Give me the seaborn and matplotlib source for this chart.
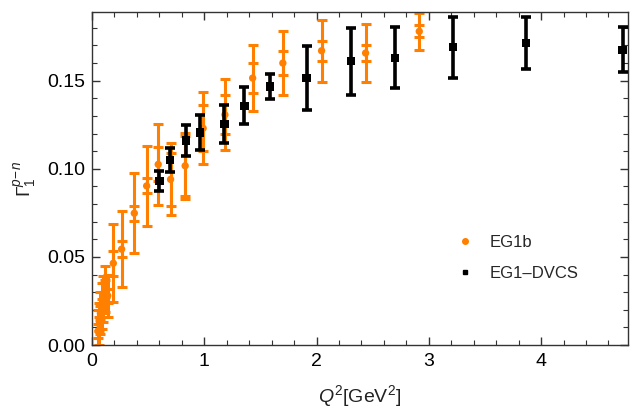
import numpy as np
import pandas as pd
import matplotlib
matplotlib.use("Agg")
import matplotlib.pyplot as plt
import seaborn as sns
from matplotlib.ticker import MultipleLocator
from matplotlib.lines import Line2D

# EG1b data: Q^2, Gamma1^{p-n}, stat error, total error
eg1b_q2 = [0.054, 0.064, 0.075, 0.088, 0.10, 0.116, 0.14, 0.19, 0.264, 0.377, 0.487,
           0.59, 0.70, 0.83, 0.99, 1.184, 1.431, 1.70, 2.045, 2.437, 2.915]
eg1b_g = [0.008, 0.012, 0.018, 0.022, 0.026, 0.032, 0.028, 0.0464, 0.0544, 0.0748, 0.0903,
          0.1025, 0.094, 0.1017, 0.123, 0.1307, 0.1515, 0.160, 0.167, 0.1657, 0.178]
eg1b_stat = [0.004, 0.004, 0.004, 0.004, 0.004, 0.005, 0.004, 0.0072, 0.0047, 0.0043, 0.0043,
             0.0097, 0.015, 0.017, 0.013, 0.011, 0.0085, 0.0067, 0.0056, 0.0047, 0.0034]
eg1b_tot = [0.012, 0.012, 0.012, 0.013, 0.013, 0.013, 0.012, 0.0222, 0.0216, 0.0227, 0.0227,
            0.0229, 0.0204, 0.0187, 0.0205, 0.020, 0.0185, 0.0182, 0.0177, 0.0164, 0.0106]

# EG1-DVCS data: Q^2, Gamma1^{p-n}, error
dvcs_q2 = [0.60, 0.695, 0.837, 0.962, 1.18, 1.357, 1.585, 1.912, 2.306, 2.698, 3.215, 3.865, 4.726]
dvcs_g = [0.093, 0.105, 0.116, 0.1206, 0.1254, 0.1358, 0.1468, 0.1515, 0.161, 0.163, 0.169, 0.1714, 0.1676]
dvcs_err = [0.0055, 0.0068, 0.009, 0.010, 0.0106, 0.0104, 0.007, 0.018, 0.019, 0.0172, 0.0172, 0.015, 0.0126]

orange = "#FF8000"

sns.set_theme(style="ticks")
plt.rcParams["font.family"] = ["Liberation Sans", "DejaVu Sans"]
plt.rcParams["mathtext.fontset"] = "custom"
plt.rcParams["mathtext.rm"] = "Liberation Sans"
plt.rcParams["mathtext.it"] = "Liberation Sans:italic"

df_b = pd.DataFrame({"q2": eg1b_q2, "g": eg1b_g, "stat": eg1b_stat, "tot": eg1b_tot})
df_d = pd.DataFrame({"q2": dvcs_q2, "g": dvcs_g, "err": dvcs_err})

fig = plt.figure(figsize=(6.3, 4.13), dpi=100)
ax = fig.add_axes([0.146, 0.1646, 0.851, 0.8064])

# EG1b: total and stat error bars
ax.errorbar(df_b.q2, df_b.g, yerr=df_b.tot, fmt="none", ecolor=orange, elinewidth=2.2,
            capsize=3.3, capthick=2.2, zorder=2)
ax.errorbar(df_b.q2, df_b.g, yerr=df_b.stat, fmt="none", ecolor=orange, elinewidth=2.2,
            capsize=3.3, capthick=2.2, zorder=2)
sns.scatterplot(data=df_b, x="q2", y="g", ax=ax, color=orange, marker="o", s=28,
                edgecolor="none", zorder=3, legend=False)

# EG1-DVCS
ax.errorbar(df_d.q2, df_d.g, yerr=df_d.err, fmt="none", ecolor="black", elinewidth=2.6,
            capsize=3.5, capthick=2.6, zorder=4)
sns.scatterplot(data=df_d, x="q2", y="g", ax=ax, color="black", marker="s", s=36,
                edgecolor="none", zorder=5, legend=False)

ax.set_xlim(0, 4.775)
ax.set_ylim(0, 0.189)
ax.xaxis.set_major_locator(MultipleLocator(1))
ax.xaxis.set_minor_locator(MultipleLocator(0.2))
ax.yaxis.set_major_locator(MultipleLocator(0.05))
ax.yaxis.set_minor_locator(MultipleLocator(0.01))
ax.yaxis.set_major_formatter(matplotlib.ticker.FuncFormatter(lambda v, p: f"{v:.2f}"))
ax.xaxis.set_major_formatter(matplotlib.ticker.FuncFormatter(lambda v, p: f"{v:.0f}"))

frame_col = "#333333"
for sp in ax.spines.values():
    sp.set_color(frame_col)
    sp.set_linewidth(1.0)
ax.tick_params(which="both", direction="in", top=True, right=True, color=frame_col,
               labelsize=14, labelcolor="black")
ax.tick_params(which="major", length=6, width=1.0, pad=5)
ax.tick_params(which="minor", length=3.5, width=0.8)
ax.tick_params(axis="x", which="major", pad=6)

ax.set_xlabel(r"$Q^2$[GeV$^2$]", fontsize=14, color="#222222", labelpad=9)
ax.set_ylabel(r"$\Gamma_1^{p\!-\!n}$", fontsize=14, color="#222222", labelpad=6)

handles = [
    Line2D([], [], marker="o", color=orange, linestyle="none", markersize=4),
    Line2D([], [], marker="s", color="black", linestyle="none", markersize=3),
]
ax.legend(handles, ["EG1b", "EG1\u2013DVCS"], loc="center left",
          bbox_to_anchor=(0.652, 0.262), frameon=False, fontsize=12,
          handlelength=1.0, handletextpad=1.0, labelspacing=0.95)

fig.savefig("out.png", dpi=100)
